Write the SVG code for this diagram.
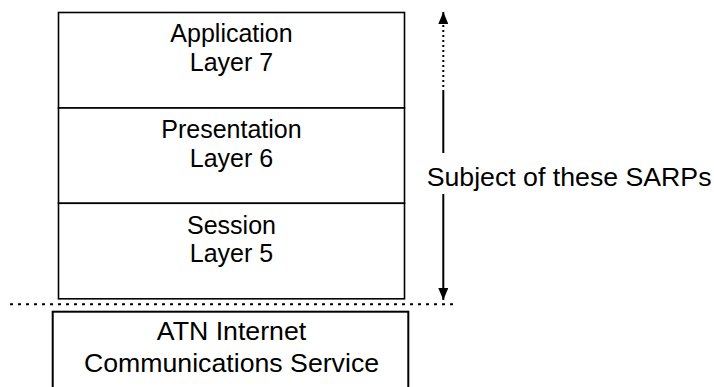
<svg xmlns="http://www.w3.org/2000/svg" width="714" height="387" viewBox="0 0 714 387">
  <style>
    .box { fill: #ffffff; stroke: #000000; stroke-width: 1.6; }
    .box2 { fill: #ffffff; stroke: #000000; stroke-width: 2; }
    .lbl { font-family: "Liberation Sans", Arial, sans-serif; font-size: 25px; fill: #000000; text-anchor: middle; }
    .lbl2 { font-family: "Liberation Sans", Arial, sans-serif; font-size: 26.7px; fill: #000000; text-anchor: middle; }
    .side { font-family: "Liberation Sans", Arial, sans-serif; font-size: 26.7px; fill: #000000; }
    .solid { stroke: #000000; stroke-width: 2; fill: none; }
    .dots { stroke: #000000; stroke-width: 2; fill: none; stroke-dasharray: 2 3; }
    .sep { stroke: #000000; stroke-width: 2; fill: none; stroke-dasharray: 3 5; }
  </style>
  <defs>
    <marker id="ah" viewBox="0 0 12 10" refX="12" refY="5" markerWidth="12" markerHeight="10" markerUnits="userSpaceOnUse" orient="auto">
      <path d="M0,0 L12,5 L0,10 Z" fill="#000000"/>
    </marker>
  </defs>
  <rect width="714" height="387" fill="#ffffff"/>

  <g id="layer7">
    <rect class="box" x="58.5" y="12.5" width="346" height="95.5"/>
    <text class="lbl" x="231.5" y="42.3">Application</text>
    <text class="lbl" x="231.5" y="71">Layer 7</text>
  </g>
  <g id="layer6">
    <rect class="box" x="58.5" y="108" width="346" height="95.3"/>
    <text class="lbl" x="231.5" y="138">Presentation</text>
    <text class="lbl" x="231.5" y="166.7">Layer 6</text>
  </g>
  <g id="layer5">
    <rect class="box" x="58.5" y="203.3" width="346" height="95.5"/>
    <text class="lbl" x="231.5" y="233.5">Session</text>
    <text class="lbl" x="231.5" y="262.2">Layer 5</text>
  </g>
  <g id="ics">
    <rect class="box2" x="52.7" y="311.7" width="355.6" height="100"/>
    <text class="lbl2" x="231.5" y="340.3">ATN Internet</text>
    <text class="lbl2" x="231.5" y="372">Communications Service</text>
  </g>
  <g id="scope-label">
    <text class="side" x="426.7" y="186">Subject of these SARPs</text>
  </g>
  <g id="connectors">
    <line class="sep" x1="10" y1="304.3" x2="453" y2="304.3"/>
    <line class="solid" x1="443.3" y1="153" x2="443.3" y2="92"/>
    <line class="dots" x1="443.3" y1="92" x2="443.3" y2="22"/>
    <line class="solid" x1="443.3" y1="24" x2="443.3" y2="12" marker-end="url(#ah)"/>
    <line class="solid" x1="443.3" y1="194" x2="443.3" y2="300" marker-end="url(#ah)"/>
  </g>
</svg>
